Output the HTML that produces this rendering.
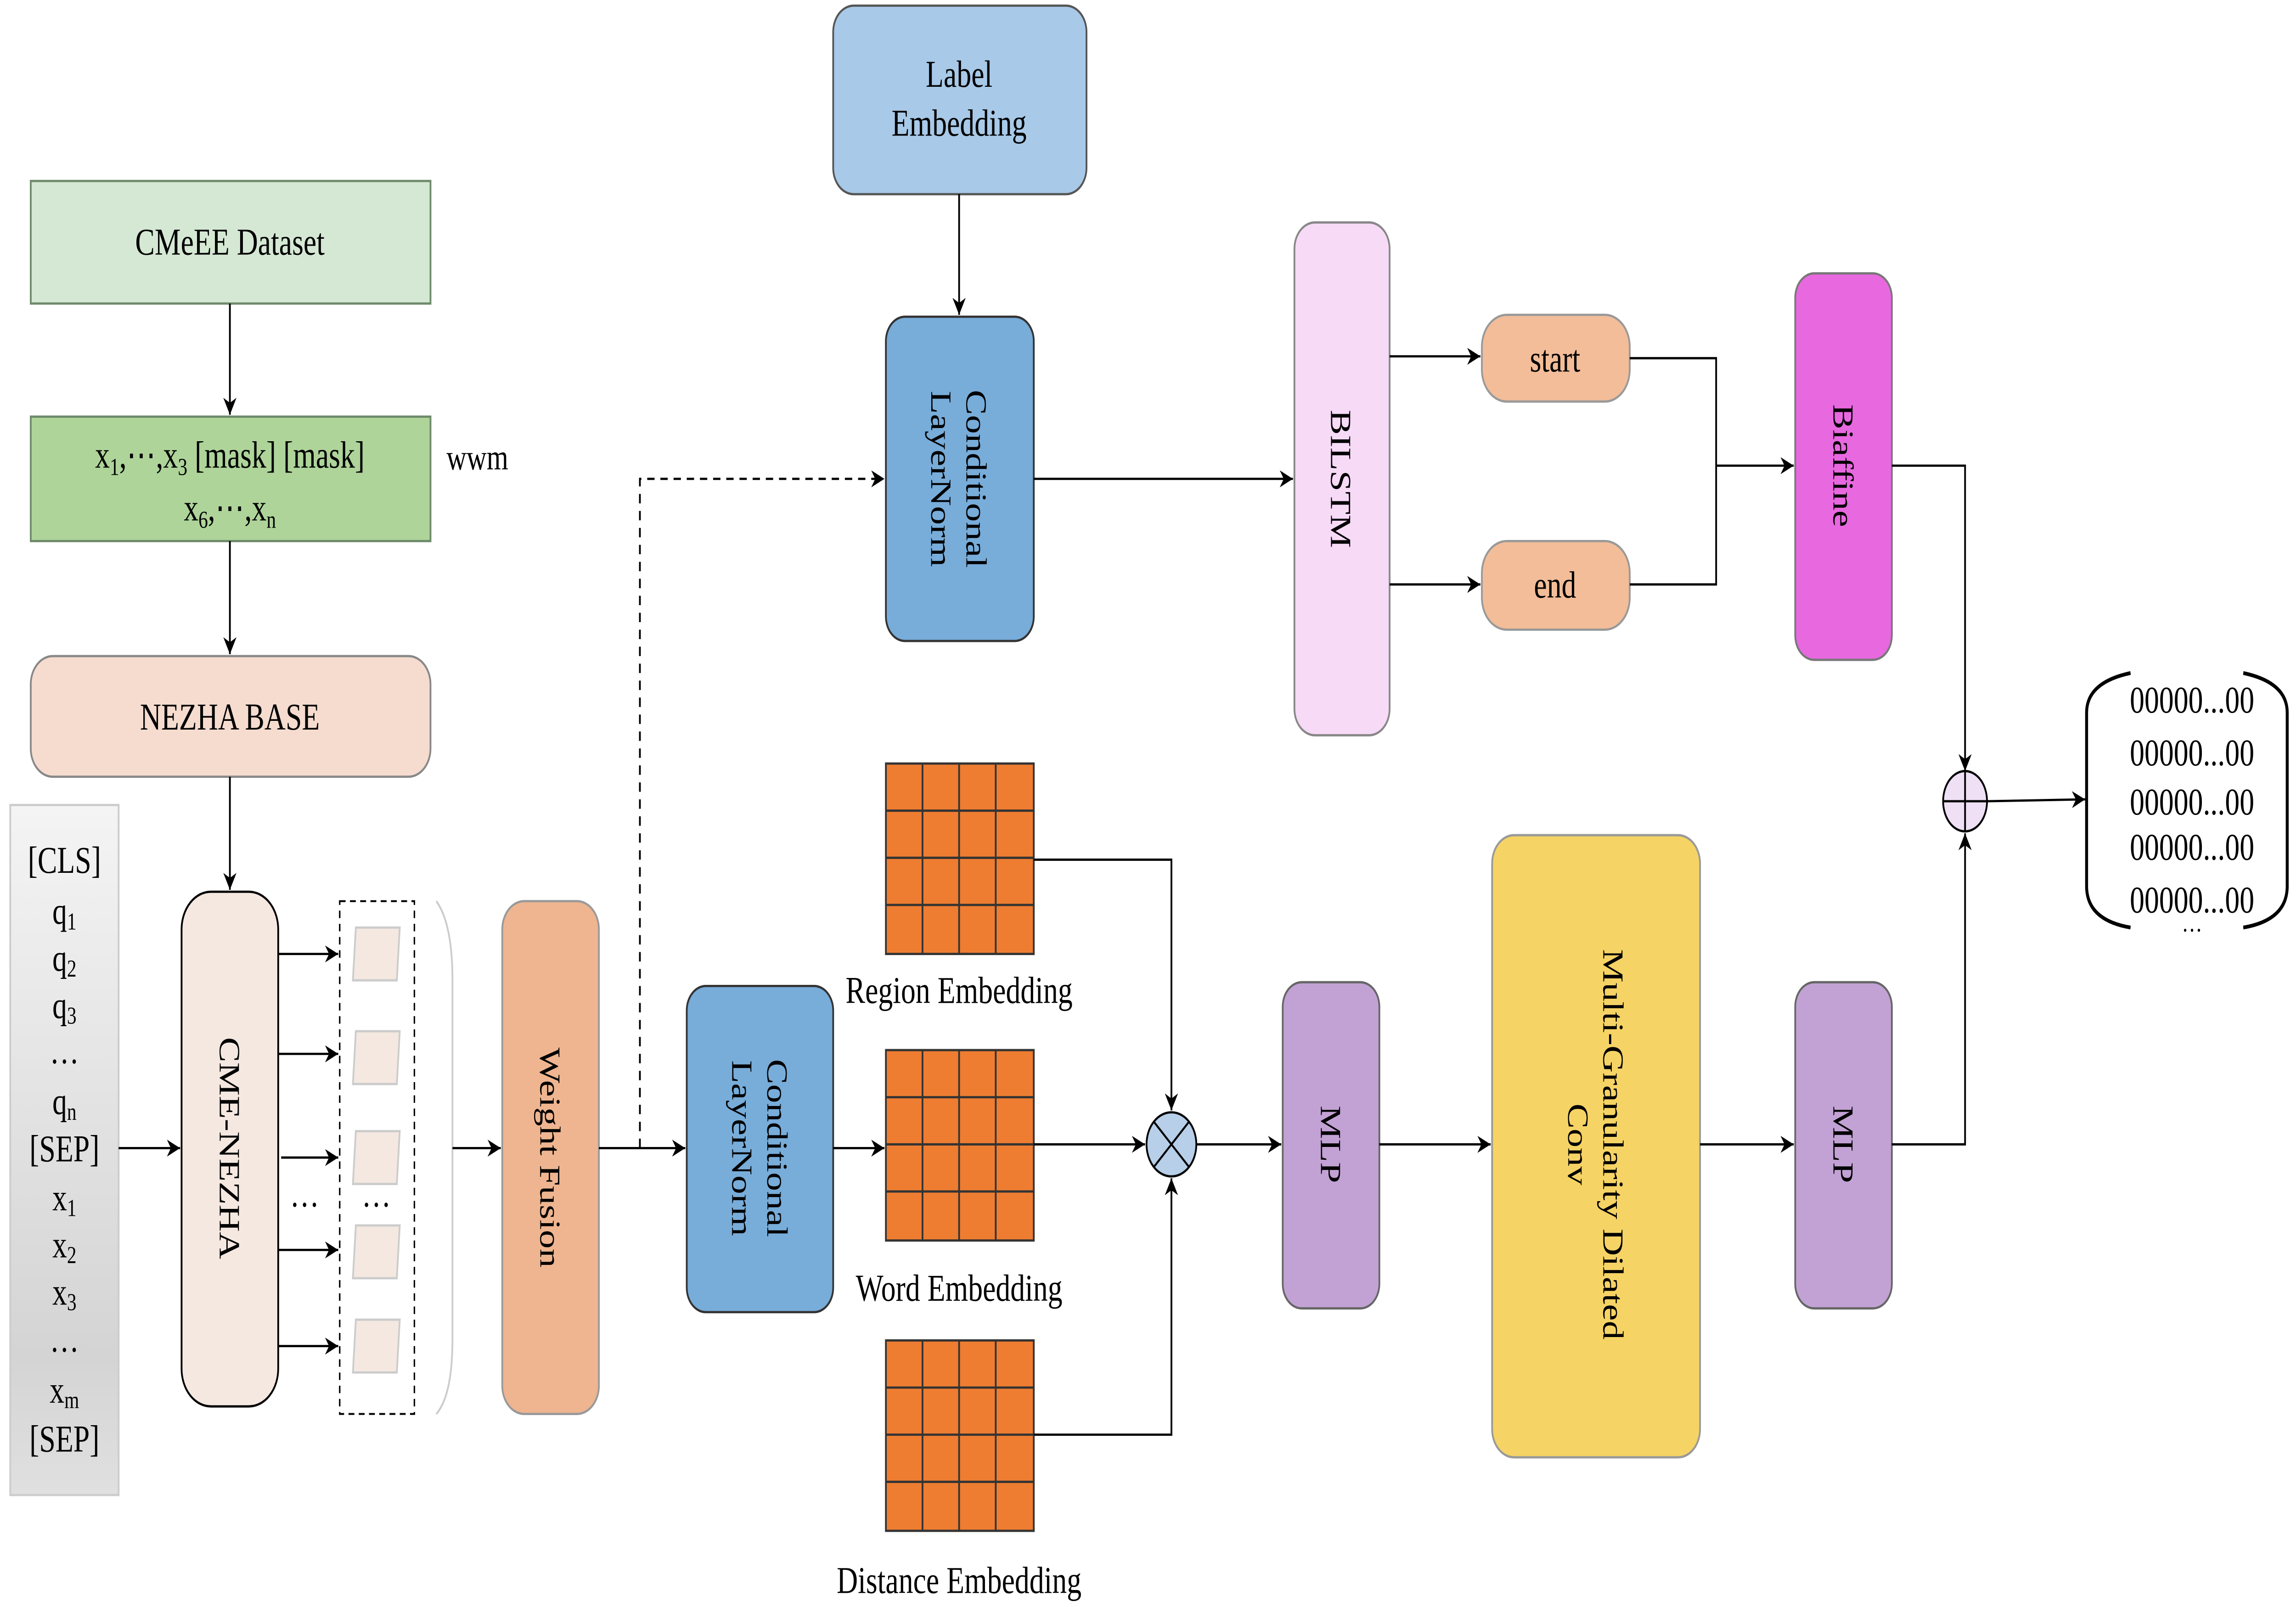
<!DOCTYPE html>
<html><head><meta charset="utf-8"><style>html,body{margin:0;padding:0;background:#fff;width:100vw;height:100vh;overflow:hidden}svg{display:block;width:100vw;height:100vh}</style></head><body>
<svg viewBox="0 0 1568 852.4" preserveAspectRatio="none" xmlns="http://www.w3.org/2000/svg" font-family="Liberation Serif, serif" font-size="20">
<defs>
<marker id="a" viewBox="0 0 10 10" refX="10" refY="5" markerWidth="9" markerHeight="9" markerUnits="userSpaceOnUse" orient="auto"><path d="M0,0 L10,5 L0,10 L3,5 z" fill="#000"/></marker>
<linearGradient id="g" x1="0" y1="0" x2="0" y2="1"><stop offset="0" stop-color="#f4f4f4"/><stop offset="0.8" stop-color="#d4d4d4"/><stop offset="1" stop-color="#e0e0e0"/></linearGradient>
</defs>
<g stroke="#000" stroke-width="1.2" fill="none">
<rect x="21" y="96" width="273" height="65" fill="#d5e8d4" stroke="#6e8a6b"/>
<rect x="21" y="221" width="273" height="66" fill="#aed49a" stroke="#6e8a6b"/>
<rect x="21" y="348" width="273" height="64" rx="15" fill="#f5dccf" stroke="#888"/>
<rect x="7" y="427" width="74" height="366" fill="url(#g)" stroke="#ccc"/>
<rect x="124" y="473" width="66" height="273" rx="20" fill="#f4e8e1"/>
<rect x="232" y="478" width="51" height="272" stroke-dasharray="4,3" stroke-width="1"/>
<path d="M298,478 Q309,490 309,520 L309,710 Q309,740 298,750" stroke="#ccc"/>
<rect x="343" y="478" width="66" height="272" rx="15" fill="#eeb590" stroke="#999"/>
<line x1="157" y1="161" x2="157" y2="220" marker-end="url(#a)"/>
<line x1="157" y1="287" x2="157" y2="347" marker-end="url(#a)"/>
<line x1="157" y1="412" x2="157" y2="472" marker-end="url(#a)"/>
<line x1="81" y1="609" x2="123" y2="609" marker-end="url(#a)"/>
<line x1="190" y1="506" x2="231" y2="506" marker-end="url(#a)"/>
<line x1="190" y1="559" x2="231" y2="559" marker-end="url(#a)"/>
<line x1="192" y1="614" x2="231" y2="614" marker-end="url(#a)"/>
<line x1="190" y1="663" x2="231" y2="663" marker-end="url(#a)"/>
<line x1="190" y1="714" x2="231" y2="714" marker-end="url(#a)"/>
<line x1="309" y1="609" x2="342" y2="609" marker-end="url(#a)"/>
<g fill="#f4e8e1" stroke="#ccc"><path d="M243,492 L273,492 L271,520 L241,520 z"/><path d="M243,547 L273,547 L271,575 L241,575 z"/><path d="M243,600 L273,600 L271,628 L241,628 z"/><path d="M243,650 L273,650 L271,678 L241,678 z"/><path d="M243,700 L273,700 L271,728 L241,728 z"/></g>
<line x1="409" y1="609" x2="468" y2="609" marker-end="url(#a)"/>
<path d="M437,609 L437,254 L604,254" stroke-dasharray="5,4" marker-end="url(#a)"/>
<rect x="569" y="3" width="173" height="100" rx="14" fill="#a8c9e8" stroke="#555"/>
<line x1="655" y1="103" x2="655" y2="167" marker-end="url(#a)"/>
<rect x="605" y="168" width="101" height="172" rx="13" fill="#78acd9" stroke="#333"/>
<line x1="706" y1="254" x2="883" y2="254" marker-end="url(#a)"/>
<rect x="469" y="523" width="100" height="173" rx="13" fill="#78acd9" stroke="#333"/>
<line x1="569" y1="609" x2="604" y2="609" marker-end="url(#a)"/>
<g fill="#ee7d31" stroke="#333">
<rect x="605" y="405" width="101" height="101"/><rect x="605" y="557" width="101" height="101"/><rect x="605" y="711" width="101" height="101"/>
</g>
<g stroke="#333">
<path d="M630,405V506M655,405V506M680,405V506M605,430H706M605,455H706M605,480H706"/>
<path d="M630,557V658M655,557V658M680,557V658M605,582H706M605,607H706M605,632H706"/>
<path d="M630,711V812M655,711V812M680,711V812M605,736H706M605,761H706M605,786H706"/>
</g>
<path d="M706,456 L800,456 L800,589" marker-end="url(#a)"/>
<line x1="706" y1="607" x2="782" y2="607" marker-end="url(#a)"/>
<path d="M706,761 L800,761 L800,625" marker-end="url(#a)"/>
<circle cx="800" cy="607" r="17" fill="#b7cfe8"/>
<path d="M788,595 L812,619 M812,595 L788,619"/>
<line x1="817" y1="607" x2="875" y2="607" marker-end="url(#a)"/>
<rect x="876" y="521" width="66" height="173" rx="13" fill="#c2a2d4" stroke="#666"/>
<line x1="942" y1="607" x2="1018" y2="607" marker-end="url(#a)"/>
<rect x="1019" y="443" width="142" height="330" rx="15" fill="#f6d365" stroke="#999"/>
<line x1="1161" y1="607" x2="1225" y2="607" marker-end="url(#a)"/>
<rect x="1226" y="521" width="66" height="173" rx="13" fill="#c2a2d4" stroke="#666"/>
<path d="M1292,607 L1342,607 L1342,442" marker-end="url(#a)"/>
<rect x="884" y="118" width="65" height="272" rx="14" fill="#f6daf6" stroke="#888"/>
<line x1="949" y1="189" x2="1011" y2="189" marker-end="url(#a)"/>
<line x1="949" y1="310" x2="1011" y2="310" marker-end="url(#a)"/>
<rect x="1012" y="167" width="101" height="46" rx="17" fill="#f2bd98" stroke="#999"/>
<rect x="1012" y="287" width="101" height="47" rx="17" fill="#f2bd98" stroke="#999"/>
<path d="M1113,190 L1172,190 L1172,310 L1113,310"/>
<line x1="1172" y1="247" x2="1225" y2="247" marker-end="url(#a)"/>
<rect x="1226" y="145" width="66" height="205" rx="13" fill="#e868e0" stroke="#777"/>
<path d="M1292,247 L1342,247 L1342,409" marker-end="url(#a)"/>
<ellipse cx="1342" cy="425" rx="15" ry="16" fill="#efe0f5"/>
<path d="M1342,409 V441 M1327,425 H1357"/>
<line x1="1357" y1="425" x2="1424" y2="424" marker-end="url(#a)"/>
<path d="M1455,357 Q1425,362 1425,378 L1425,470 Q1425,488 1455,492" stroke-width="2"/>
<path d="M1532,357 Q1562,362 1562,378 L1562,470 Q1562,488 1532,492" stroke-width="2"/>
</g>
<g text-anchor="middle" fill="#000">
<text x="157" y="135">CMeEE Dataset</text>
<text x="157" y="248">x<tspan font-size="13" dy="4">1</tspan><tspan dy="-4">,⋯,x</tspan><tspan font-size="13" dy="4">3</tspan><tspan dy="-4"> [mask] [mask]</tspan></text>
<text x="157" y="276">x<tspan font-size="13" dy="4">6</tspan><tspan dy="-4">,⋯,x</tspan><tspan font-size="13" dy="4">n</tspan></text>
<text x="326" y="249" font-size="19">wwm</text>
<text x="157" y="387">NEZHA BASE</text>
<text x="44" y="463">[CLS]</text>
<text x="44" y="490">q<tspan font-size="13" dy="3">1</tspan></text>
<text x="44" y="515">q<tspan font-size="13" dy="3">2</tspan></text>
<text x="44" y="540">q<tspan font-size="13" dy="3">3</tspan></text>
<text x="44" y="564">…</text>
<text x="44" y="591">q<tspan font-size="13" dy="3">n</tspan></text>
<text x="44" y="616">[SEP]</text>
<text x="44" y="642">x<tspan font-size="13" dy="3">1</tspan></text>
<text x="44" y="667">x<tspan font-size="13" dy="3">2</tspan></text>
<text x="44" y="692">x<tspan font-size="13" dy="3">3</tspan></text>
<text x="44" y="717">…</text>
<text x="44" y="744">x<tspan font-size="13" dy="3">m</tspan></text>
<text x="44" y="770">[SEP]</text>
<text x="208" y="640">…</text><text x="257" y="640">…</text>
<text transform="translate(157,609) rotate(90)" y="7">CME-NEZHA</text>
<text transform="translate(376,614) rotate(90)" y="7">Weight Fusion</text>
<text x="655" y="46">Label</text><text x="655" y="72">Embedding</text>
<text transform="translate(655,254) rotate(90)" y="-5">Conditional<tspan x="0" dy="24">LayerNorm</tspan></text>
<text transform="translate(519,609) rotate(90)" y="-5">Conditional<tspan x="0" dy="24">LayerNorm</tspan></text>
<text x="655" y="532">Region Embedding</text>
<text x="655" y="690">Word Embedding</text>
<text x="655" y="845">Distance Embedding</text>
<text transform="translate(909,607) rotate(90)" y="7">MLP</text>
<text transform="translate(1259,607) rotate(90)" y="7">MLP</text>
<text transform="translate(1090,607) rotate(90)" y="-5">Multi-Granularity Dilated<tspan x="0" dy="24">Conv</tspan></text>
<text transform="translate(916,254) rotate(90)" y="7">BILSTM</text>
<text transform="translate(1259,247) rotate(90)" y="7">Biaffine</text>
<text x="1062" y="197">start</text>
<text x="1062" y="317">end</text>
<text x="1497" y="378">00000...00</text>
<text x="1497" y="406">00000...00</text>
<text x="1497" y="432">00000...00</text>
<text x="1497" y="456">00000...00</text>
<text x="1497" y="484">00000...00</text>
<text x="1497" y="494" font-size="14">…</text>
</g>
</svg>
</body></html>
